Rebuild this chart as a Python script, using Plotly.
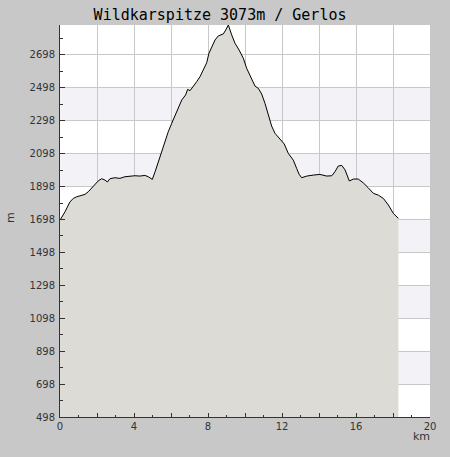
import plotly.graph_objects as go

# Distance (km) and elevation (m) read from the profile
km = [0.00, 0.27, 0.54, 0.72, 0.90, 1.35, 1.53, 1.80, 2.07, 2.25, 2.43, 2.56, 2.70, 2.97,
      3.24, 3.51, 4.05, 4.32, 4.59, 4.77, 4.99, 5.14, 5.31, 5.50, 5.68, 5.85, 6.04, 6.22,
      6.40, 6.58, 6.79, 6.90, 7.03, 7.21, 7.39, 7.57, 7.75, 7.93, 8.05, 8.20, 8.38, 8.56,
      8.83, 8.96, 9.10, 9.28, 9.46, 9.68, 9.91, 10.09, 10.36, 10.54, 10.72, 10.90, 11.08,
      11.26, 11.44, 11.62, 11.89, 12.12, 12.34, 12.61, 12.79, 12.92, 13.06, 13.34, 13.69,
      14.05, 14.42, 14.69, 14.86, 15.04, 15.23, 15.41, 15.64, 15.86, 16.12, 16.39, 16.66,
      16.94, 17.21, 17.48, 17.75, 18.02, 18.29]
elev = [1694, 1745, 1806, 1826, 1836, 1851, 1867, 1901, 1933, 1946, 1938, 1926, 1946, 1952,
        1948, 1958, 1964, 1962, 1966, 1958, 1942, 1988, 2049, 2110, 2171, 2231, 2283, 2333,
        2380, 2424, 2455, 2489, 2481, 2505, 2536, 2566, 2607, 2651, 2708, 2749, 2789, 2814,
        2826, 2850, 2880, 2820, 2769, 2728, 2678, 2617, 2546, 2509, 2495, 2461, 2404,
        2333, 2266, 2222, 2185, 2157, 2100, 2059, 2009, 1974, 1952, 1962, 1968,
        1972, 1962, 1964, 1988, 2023, 2027, 1999, 1932, 1944, 1944, 1921, 1891,
        1857, 1846, 1826, 1786, 1735, 1705]

x_tickvals = [0, 2, 4, 6, 8, 10, 12, 14, 16, 18, 20]
x_ticktext = ["0", "", "4", "", "8", "", "12", "", "16", "", "20"]
y_tickvals = [498, 698, 898, 1098, 1298, 1498, 1698, 1898, 2098, 2298, 2498, 2698]
bands = [(698, 898), (1098, 1298), (1498, 1698), (1898, 2098), (2298, 2498)]

fig = go.Figure()
fig.add_trace(go.Scatter(
    x=km, y=elev, mode="lines", fill="tozeroy",
    fillcolor="#dcdbd6", line=dict(color="black", width=1),
    hoverinfo="skip", showlegend=False))

shapes = []
for lo, hi in bands:
    shapes.append(dict(type="rect", xref="x", yref="y", x0=0, x1=20, y0=lo, y1=hi,
                       fillcolor="#f3f2f6", line=dict(width=0), layer="below"))

tickfont = dict(family="DejaVu Sans", size=10, color="#333333")
fig.update_layout(
    width=450, height=457,
    margin=dict(l=60, r=20, t=25, b=40),
    paper_bgcolor="#c8c8c8", plot_bgcolor="white",
    shapes=shapes,
    title=dict(text="Wildkarspitze 3073m / Gerlos", x=0.489, xanchor="center",
               y=1 - 15 / 457, yanchor="middle", xref="container", yref="container",
               font=dict(family="DejaVu Sans Mono", size=15, color="black")),
    xaxis=dict(range=[0, 20], tickvals=x_tickvals, ticktext=x_ticktext,
               ticks="inside", ticklen=4, tickcolor="#333333", tickwidth=1,
               minor=dict(dtick=1, tick0=0, ticks="inside", ticklen=2,
                          tickcolor="#333333", showgrid=False),
               showgrid=True, gridcolor="#c8c8c8", gridwidth=1,
               showline=True, linecolor="#333333", linewidth=1,
               zeroline=False, tickfont=tickfont, fixedrange=True),
    yaxis=dict(range=[498, 2880], tickvals=y_tickvals,
               ticks="inside", ticklen=5, tickcolor="#333333", tickwidth=1,
               minor=dict(dtick=100, tick0=498, ticks="inside", ticklen=3,
                          tickcolor="#333333", showgrid=False),
               showgrid=True, gridcolor="#c8c8c8", gridwidth=1,
               showline=True, linecolor="#333333", linewidth=1,
               zeroline=False, tickfont=tickfont, ticklabelstandoff=2, fixedrange=True),
    annotations=[
        dict(text="km", xref="paper", yref="paper", x=(421 - 60) / 370, y=-(436 - 417) / 392,
             showarrow=False, xanchor="center", yanchor="middle",
             font=dict(family="DejaVu Sans", size=11, color="#333333")),
        dict(text="m", xref="paper", yref="paper", x=-(60 - 10) / 370, y=(417 - 218) / 392,
             showarrow=False, xanchor="center", yanchor="middle", textangle=-90,
             font=dict(family="DejaVu Sans", size=11, color="#333333")),
    ],
)

fig.write_html(
    "out.html",
    config={"displayModeBar": False, "staticPlot": True},
    post_script="document.body.style.margin='0';document.body.style.background='#c8c8c8';",
)
